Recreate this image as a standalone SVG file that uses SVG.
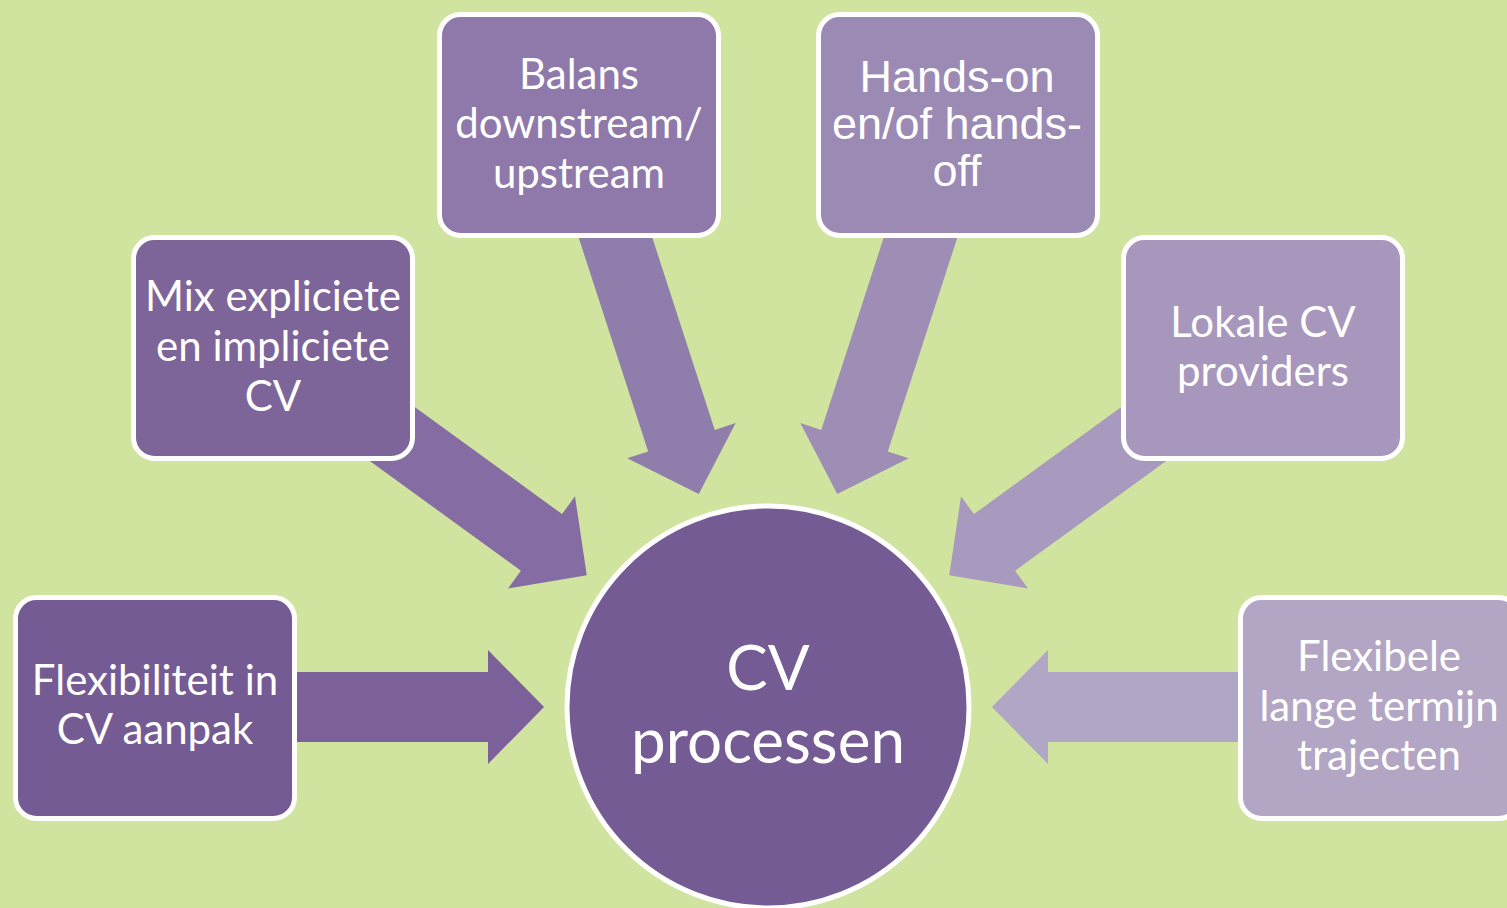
<svg xmlns="http://www.w3.org/2000/svg" width="1507" height="908" viewBox="0 0 1507 908">
<defs>
<polygon id="arr" points="0,0 -56,-57 -56,-35 -290,-35 -290,35 -56,35 -56,57"/>
<style>
.box{stroke:#fff;stroke-width:5}
.t{font-family:Lato,"Open Sans",sans-serif;font-size:42px;fill:#fff;text-anchor:middle}
.ta{font-family:"Liberation Sans",Arial,sans-serif;font-size:45px;fill:#fff;text-anchor:middle}
</style>
</defs>
<rect width="1507" height="908" fill="#d0e39f"/>
<g id="connectors">
<use href="#arr" fill="#7c6099" transform="translate(768,707) rotate(0) translate(-224,0)"/>
<use href="#arr" fill="#856ca3" transform="translate(768,707) rotate(36) translate(-224,0)"/>
<use href="#arr" fill="#8f7dab" transform="translate(768,707) rotate(72) translate(-224,0)"/>
<use href="#arr" fill="#9e8eb5" transform="translate(768,707) rotate(108) translate(-224,0)"/>
<use href="#arr" fill="#a89abe" transform="translate(768,707) rotate(144) translate(-224,0)"/>
<use href="#arr" fill="#b1a6c5" transform="translate(768,707) rotate(180) translate(-224,0)"/>
</g>
<g id="center">
<circle cx="768" cy="707" r="201" fill="#745b93" stroke="#fff" stroke-width="5"/>
<text class="t" style="font-size:62px" x="768" y="690">CV</text>
<text class="t" style="font-size:62px" x="768" y="763">processen</text>
</g>
<g id="n1">
<rect class="box" x="15.5" y="597.5" width="279" height="221" rx="21" fill="#745b93"/>
<text class="t" x="155" y="695">Flexibiliteit in</text>
<text class="t" x="155" y="744">CV aanpak</text>
</g>
<g id="n2">
<rect class="box" x="133.5" y="237.5" width="279" height="221" rx="21" fill="#7d6499"/>
<text class="t" x="273" y="311">Mix expliciete</text>
<text class="t" x="273" y="361">en impliciete</text>
<text class="t" x="273" y="411">CV</text>
</g>
<g id="n3">
<rect class="box" x="439.5" y="14.5" width="279" height="221" rx="21" fill="#8e79aa"/>
<text class="t" x="579" y="89">Balans</text>
<text class="t" x="579" y="138">downstream/</text>
<text class="t" x="579" y="188">upstream</text>
</g>
<g id="n4">
<rect class="box" x="818.5" y="14.5" width="279" height="221" rx="21" fill="#9b8ab3"/>
<text class="ta" x="957" y="92">Hands-on</text>
<text class="ta" x="957" y="139">en/of hands-</text>
<text class="ta" x="957" y="186">off</text>
</g>
<g id="n5">
<rect class="box" x="1123.5" y="237.5" width="279" height="221" rx="21" fill="#a797bc"/>
<text class="t" x="1263" y="337">Lokale CV</text>
<text class="t" x="1263" y="386">providers</text>
</g>
<g id="n6">
<rect class="box" x="1240.5" y="597.5" width="279" height="221" rx="21" fill="#b2a6c4"/>
<text class="t" x="1379" y="671">Flexibele</text>
<text class="t" x="1379" y="721">lange termijn</text>
<text class="t" x="1379" y="770">trajecten</text>
</g>
</svg>
